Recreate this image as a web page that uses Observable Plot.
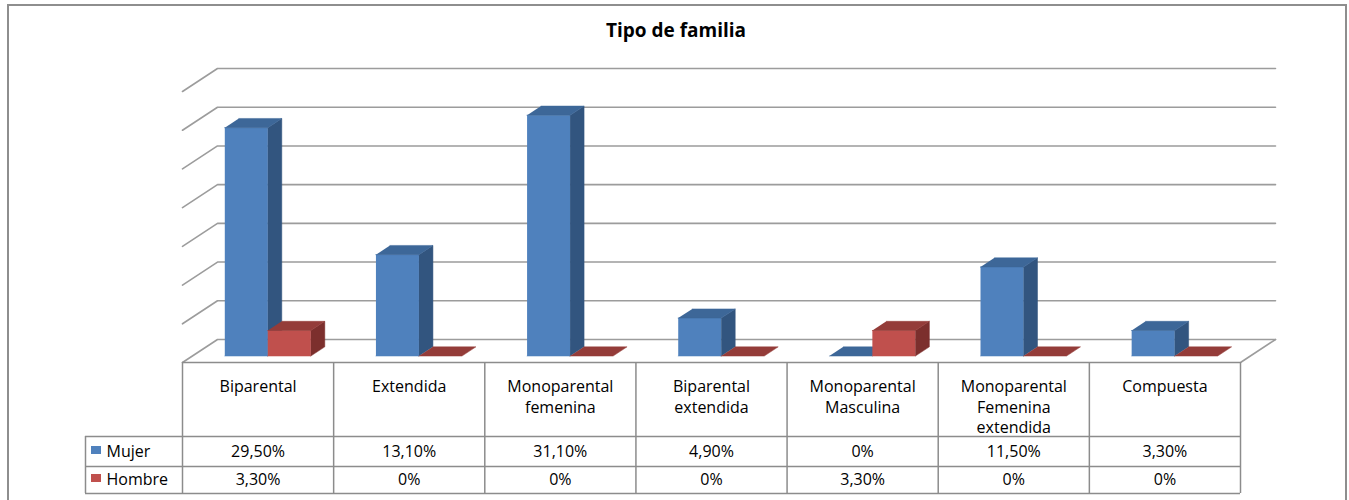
<!DOCTYPE html>
<html><head><meta charset="utf-8">
<script src="https://cdn.jsdelivr.net/npm/d3@7"></script>
<script src="https://cdn.jsdelivr.net/npm/@observablehq/plot@0.6"></script>
<style>
body{margin:0;background:#fff;overflow:hidden;}
#wrap{position:relative;width:1349px;height:500px;overflow:hidden;}
#chart{position:absolute;left:0;top:0;}
#border{position:absolute;left:7px;top:4px;width:1340px;height:540px;border:2px solid #8e8e8e;box-sizing:border-box;}
#title{position:absolute;left:0;width:1352px;top:17px;text-align:center;font:bold 19px "Open Sans",sans-serif;color:#000;}
</style></head>
<body><div id="wrap"><div id="chart"></div><div id="border"></div><div id="title"></div></div>
<script>
// ---- data ----
const chartTitle = "Tipo de familia";
const categories = ["Biparental","Extendida","Monoparental femenina","Biparental extendida","Monoparental Masculina","Monoparental Femenina extendida","Compuesta"];
const categoryLabels = ["Biparental","Extendida","Monoparental\nfemenina","Biparental\nextendida","Monoparental\nMasculina","Monoparental\nFemenina\nextendida","Compuesta"];
const seriesNames = ["Mujer","Hombre"];
const mujer = [29.5,13.1,31.1,4.9,0,11.5,3.3];
const hombre = [3.3,0,0,0,3.3,0,0];
const gridTicks = [0,5,10,15,20,25,30,35];

// ---- styles / geometry ----
const palette = [
  {front:"#4f81bd", side:"#32557f", top:"#3d6798"},
  {front:"#c0504d", side:"#7c2f2d", top:"#943c39"}
];
const L = 182, R = 1240, Y0 = 362, YT = 91;
const colW = (R - L) / categories.length;
const pxPerPct = (Y0 - YT) / 35;
const ddx = 35 / colW, ddy = 23 / pxPerPct;       // depth offsets in data units
const xu = px => (px - L) / colW;                  // layout helpers for table
const vu = py => (Y0 - py) / pxPerPct;
const p = (x, v, d) => ({x: x + d * ddx, y: v + d * ddy});
const fmt = v => v === 0 ? "0%" : v.toFixed(2).replace(".", ",") + "%";

document.getElementById("title").textContent = chartTitle;

// gridlines (left wall diagonal + back wall)
const gridPts = gridTicks.flatMap(v => [p(0, v, 0), p(0, v, 1), p(categories.length, v, 1)].map(q => ({...q, k: v})));
const floorRight = [p(categories.length, 0, 0), p(categories.length, 0, 1)];

// 3D bar faces
const d0 = 0.28, d1 = 0.68, gap = 0.215, bw = 0.2845;
const faces = [];
let id = 0;
categories.forEach((c, i) => {
  [mujer[i], hombre[i]].forEach((v, s) => {
    const a = i + gap + s * bw, b = a + bw, col = palette[s];
    const polys = [];
    if (v > 0) {
      polys.push([col.front, [p(a,0,d0), p(b,0,d0), p(b,v,d0), p(a,v,d0)]]);
      polys.push([col.side,  [p(b,0,d0), p(b,0,d1), p(b,v,d1), p(b,v,d0)]]);
    }
    polys.push([col.top, [p(a,v,d0), p(b,v,d0), p(b,v,d1), p(a,v,d1)]]);
    polys.forEach(([fill, pts]) => { id++; pts.forEach(q => faces.push({...q, id, fill})); });
  });
});

const grid = {stroke: "#9c9c9c", strokeWidth: 1.6};
const tbl = {stroke: "#8c8c8c", strokeWidth: 1.5};
const idx = d3.range(categories.length + 1);

const plot = Plot.plot({
  width: 1349, height: 500,
  marginLeft: L, marginRight: 1349 - R, marginTop: YT, marginBottom: 500 - Y0,
  x: {domain: [0, categories.length], axis: null},
  y: {domain: [0, 35], axis: null},
  color: {type: "identity"},
  style: {fontFamily: "'Open Sans', sans-serif", fontSize: "16px", color: "#000", background: "transparent", overflow: "visible"},
  marks: [
    Plot.line(gridPts, {x: "x", y: "y", z: "k", ...grid}),
    Plot.line(floorRight, {x: "x", y: "y", ...grid}),
    Plot.line(faces, {x: "x", y: "y", z: "id", fill: "fill", stroke: "fill", strokeWidth: 0.5}),
    // data table
    Plot.ruleY([0], tbl),
    Plot.ruleX(idx, {y1: 0, y2: vu(493), ...tbl}),
    Plot.ruleY([vu(436), vu(466), vu(493)], {x1: xu(85), x2: categories.length, ...tbl}),
    Plot.ruleX([xu(85)], {y1: vu(436), y2: vu(493), ...tbl}),
    Plot.text(categoryLabels, {x: (d, i) => i + 0.5, y: () => 0, text: d => d, lineAnchor: "top", dy: 15, lineHeight: 1.28}),
    Plot.text(mujer, {x: (d, i) => i + 0.5, y: () => vu(451), text: fmt}),
    Plot.text(hombre, {x: (d, i) => i + 0.5, y: () => vu(479.5), text: fmt}),
    Plot.rect(seriesNames, {x1: () => xu(91), x2: () => xu(101), y1: (d, i) => vu(446 + 28 * i), y2: (d, i) => vu(454 + 28 * i), fill: (d, i) => palette[i].front}),
    Plot.text(seriesNames, {x: () => xu(106), y: (d, i) => vu(451 + 28.5 * i), text: d => d, textAnchor: "start"})
  ]
});
document.getElementById("chart").append(plot);
</script>
</body></html>
